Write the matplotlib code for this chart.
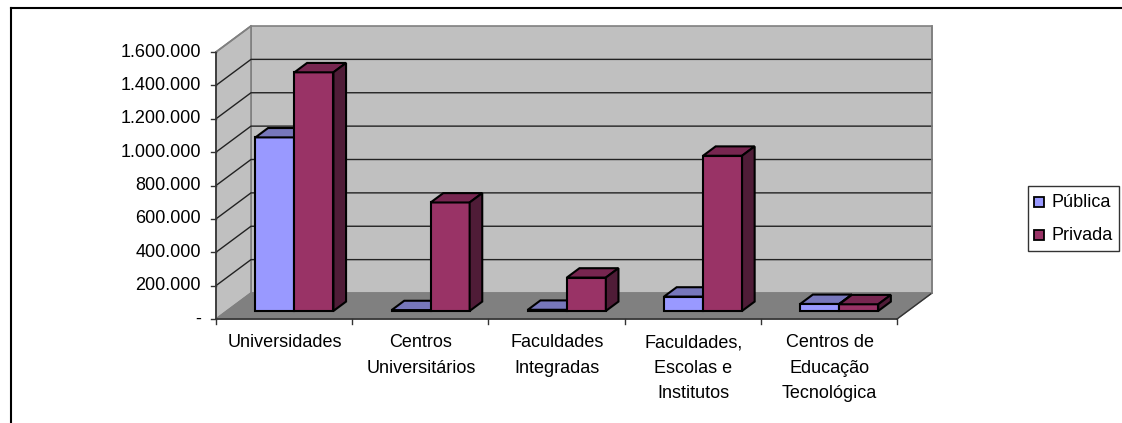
import matplotlib
matplotlib.use("Agg")
import matplotlib.pyplot as plt
from matplotlib.patches import Polygon, Rectangle

categories = ["Universidades", "Centros\nUniversitários", "Faculdades\nIntegradas",
              "Faculdades,\nEscolas e\nInstitutos", "Centros de\nEducação\nTecnológica"]
publica = [1040000, 5000, 7000, 86000, 42000]
privada = [1430000, 650000, 200000, 930000, 40000]
series_names = ["Pública", "Privada"]
y_ticks = [0, 200000, 400000, 600000, 800000, 1000000, 1200000, 1400000, 1600000]
y_labels = ["-", "200.000", "400.000", "600.000", "800.000", "1.000.000",
            "1.200.000", "1.400.000", "1.600.000"]

FACE = {"pub": ("#9999FF", "#7777BB", "#55558B"), "pri": ("#993366", "#772650", "#4F1C37")}
WIDTH, HEIGHT = 1122, 423
FONT = 13

plt.rcParams["font.family"] = ["Liberation Sans", "DejaVu Sans"]

fig = plt.figure(figsize=(WIDTH / 100, HEIGHT / 100), dpi=100)
ax = fig.add_axes([216 / WIDTH, 1 - 319 / HEIGHT, 681 / WIDTH, 267 / HEIGHT])
ax.set_xlim(0, 5)
ax.set_ylim(0, 1600000)
ax.axis("off")

# oblique depth: how far the back wall is shifted from the front plane
DX = 35 / 681 * 5
DY = 26 / 267 * 1600000


def pr(x, y, d):
    return (x + d * DX, y + d * DY)


def poly(points, color, lw=1.0, edge="#000000", z=2):
    ax.add_patch(Polygon(points, closed=True, facecolor=color, edgecolor=edge,
                         linewidth=lw, clip_on=False, zorder=z, joinstyle="miter"))


# walls and floor
top = y_ticks[-1]
poly([pr(0, 0, 1), pr(5, 0, 1), pr(5, top, 1), pr(0, top, 1)], "#C0C0C0", 1.2, "#808080", 1)
poly([pr(0, 0, 0), pr(0, 0, 1), pr(0, top, 1), pr(0, top, 0)], "#C0C0C0", 1.2, "#808080", 1)
poly([pr(0, 0, 0), pr(5, 0, 0), pr(5, 0, 1), pr(0, 0, 1)], "#808080", 1.0, "#808080", 1)

for t in y_ticks[1:-1]:
    ax.plot(*zip(pr(0, t, 0), pr(0, t, 1), pr(5, t, 1)), color="#222222", lw=1.0,
            clip_on=False, zorder=1.5)

# axis lines and tick marks
ax.plot([0, 0], [0, top], color="#333333", lw=1.2, clip_on=False, zorder=1.6)
ax.plot([0, 5], [0, 0], color="#333333", lw=1.2, clip_on=False, zorder=1.6)
ax.plot(*zip(pr(5, 0, 0), pr(5, 0, 1)), color="#333333", lw=1.0, clip_on=False, zorder=1.6)
ax.plot(*zip(pr(5, 0, 1), pr(5, top, 1)), color="#808080", lw=1.2, clip_on=False, zorder=1.6)
ax.plot(*zip(pr(0, top, 0), pr(0, top, 1)), color="#808080", lw=1.2, clip_on=False, zorder=1.6)
for t, lab in zip(y_ticks, y_labels):
    ax.plot([-0.037, 0], [t, t], color="#333333", lw=1.0, clip_on=False, zorder=1.6)
    ax.text(-0.11, t, lab, ha="right", va="center", fontsize=FONT, color="#000000")
for i in range(6):
    ax.plot([i, i], [-30000, 0], color="#333333", lw=1.0, clip_on=False, zorder=1.6)
for i, lab in enumerate(categories):
    ax.text(i + 0.505, -92000, lab, ha="center", va="top", fontsize=FONT, color="#000000",
            linespacing=1.64)


def bar3d(x0, x1, value, colors, z):
    d0, d1 = 0.31, 0.67
    front, topc, side = colors
    poly([pr(x0, 0, d0), pr(x1, 0, d0), pr(x1, value, d0), pr(x0, value, d0)], front, 1.5, z=z)
    poly([pr(x0, value, d0), pr(x1, value, d0), pr(x1, value, d1), pr(x0, value, d1)], topc, 1.5, z=z)
    poly([pr(x1, 0, d0), pr(x1, 0, d1), pr(x1, value, d1), pr(x1, value, d0)], side, 1.5, z=z)


BAR_W = 39 / 681 * 5
for i in range(len(categories)):
    start = i + 0.21
    bar3d(start, start + BAR_W, publica[i], FACE["pub"], 3 + i * 2)
    bar3d(start + BAR_W, start + 2 * BAR_W, privada[i], FACE["pri"], 4 + i * 2)

# legend box, in figure pixels
lg = fig.add_axes([0, 0, 1, 1], facecolor="none")
lg.set_xlim(0, WIDTH)
lg.set_ylim(HEIGHT, 0)
lg.axis("off")
lg.add_patch(Rectangle((1028, 186), 91, 65, facecolor="white", edgecolor="#333333", lw=1.0))
for y, name, c in zip((202.5, 235), series_names, (FACE["pub"][0], FACE["pri"][0])):
    lg.add_patch(Rectangle((1034.5, y - 5), 10, 10, facecolor=c, edgecolor="black", lw=1.3))
    lg.text(1052, y, name, va="center", ha="left", fontsize=FONT, color="#000000")

# chart frame
lg.plot([11, 11], [423, 8], color="black", lw=1.5)
lg.plot([11, 1122], [8, 8], color="black", lw=1.5)

fig.savefig("out.png", dpi=100)
